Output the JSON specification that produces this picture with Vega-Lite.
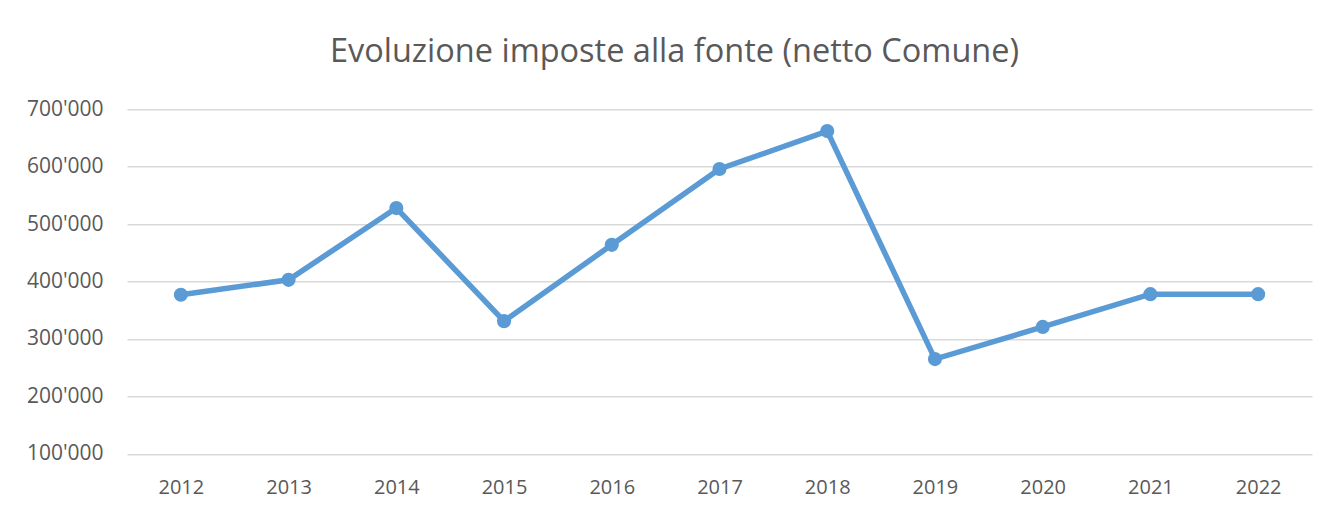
{
  "$schema": "https://vega.github.io/schema/vega-lite/v6.json",
  "width": 1185,
  "height": 344.5,
  "autosize": {"type": "none"},
  "padding": {"left": 127, "top": 109.3, "right": 16, "bottom": 56},
  "background": "white",
  "config": {
    "view": {"stroke": null},
    "font": "Open Sans",
    "locale": {"number": {"decimal": ".", "thousands": "'", "grouping": [3], "currency": ["", ""]}}
  },
  "title": {
    "text": "Evoluzione imposte alla fonte (netto Comune)",
    "font": "Open Sans",
    "fontSize": 32.5,
    "fontWeight": "normal",
    "color": "#595959",
    "anchor": "middle",
    "frame": "group",
    "dx": -45,
    "baseline": "alphabetic",
    "offset": 4
  },
  "data": {
    "values": [
      {"anno": "2012", "valore": 377000},
      {"anno": "2013", "valore": 403000},
      {"anno": "2014", "valore": 528000},
      {"anno": "2015", "valore": 331000},
      {"anno": "2016", "valore": 464000},
      {"anno": "2017", "valore": 596000},
      {"anno": "2018", "valore": 662000},
      {"anno": "2019", "valore": 265000},
      {"anno": "2020", "valore": 321000},
      {"anno": "2021", "valore": 378000},
      {"anno": "2022", "valore": 378000}
    ]
  },
  "encoding": {
    "x": {
      "field": "anno",
      "type": "ordinal",
      "scale": {"type": "point", "padding": 0.5},
      "axis": {
        "title": null,
        "labelAngle": 0,
        "labelFont": "Open Sans",
        "labelFontSize": 20,
        "labelColor": "#595959",
        "labelPadding": 24,
        "ticks": false,
        "domain": false,
        "grid": false
      }
    },
    "y": {
      "field": "valore",
      "type": "quantitative",
      "scale": {"domain": [100000, 700000], "nice": false, "zero": false},
      "axis": {
        "title": null,
        "values": [100000, 200000, 300000, 400000, 500000, 600000, 700000],
        "format": ",d",
        "labelFont": "Open Sans",
        "labelFontSize": 21,
        "labelColor": "#595959",
        "labelPadding": 24,
        "ticks": false,
        "domain": false,
        "grid": true,
        "gridColor": "#d9d9d9",
        "gridWidth": 1.5
      }
    }
  },
  "layer": [
    {"mark": {"type": "line", "color": "#5b9bd5", "strokeWidth": 5.5}},
    {"mark": {"type": "point", "filled": true, "opacity": 1, "color": "#5b9bd5", "size": 200}}
  ]
}
